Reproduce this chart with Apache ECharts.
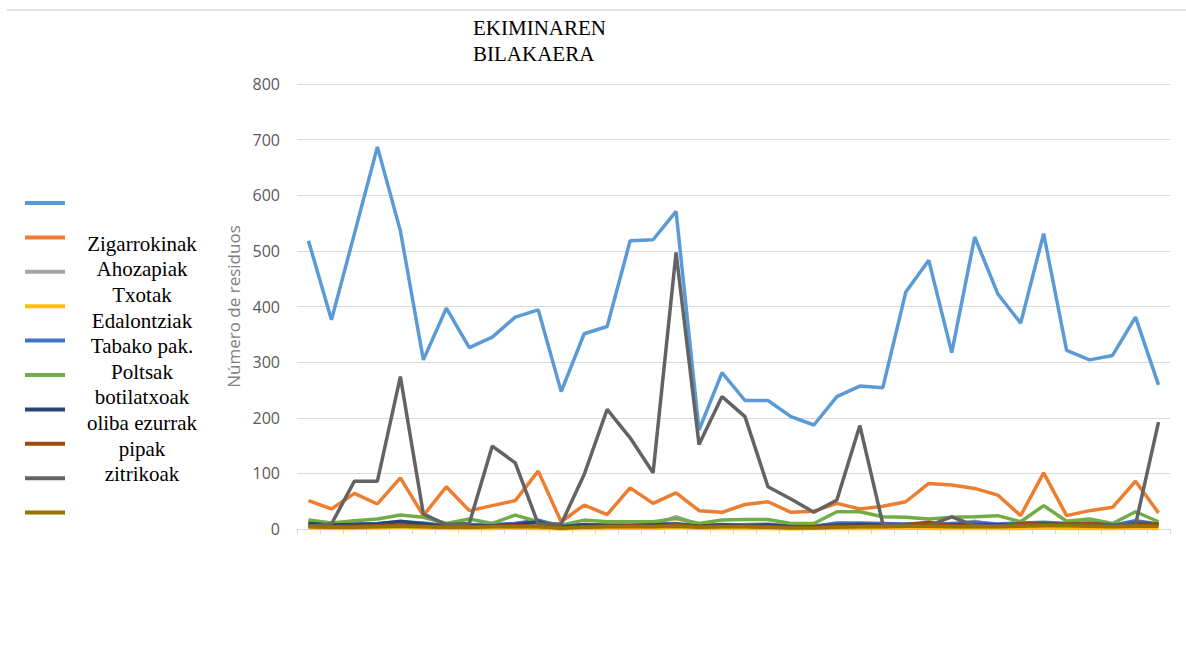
<!DOCTYPE html>
<html>
<head>
<meta charset="utf-8">
<title>Ekiminaren bilakaera</title>
<script src="https://cdn.jsdelivr.net/npm/echarts@6/dist/echarts.min.js"></script>
<style>
  html, body { margin: 0; padding: 0; background: #fff; }
  #chart { width: 1186px; height: 647px; }
</style>
</head>
<body>
<div id="chart"></div>
<script>
  // 38 egun / neurketa
  const days = Array.from({length: 38}, (_, i) => String(i + 1))

  const seriesNames = ['Zigarrokinak', 'Ahozapiak', 'Txotak', 'Edalontziak', 'Tabako pak.',
    'Poltsak', 'botilatxoak', 'oliba ezurrak', 'pipak', 'zitrikoak']
  const colors = ['#5B9BD5', '#ED7D31', '#A5A5A5', '#FFC000', '#4472C4',
    '#70AD47', '#264478', '#9E480E', '#636363', '#997300']

  const s1 = [518, 376, 531, 687, 536, 304, 397, 326, 345, 381, 394, 247, 351, 364, 518, 520, 571, 178, 281,
    231, 231, 202, 187, 238, 257, 254, 426, 483, 317, 525, 423, 370, 531, 321, 304, 312, 381, 259]
  const s2 = [51, 36, 64, 45, 92, 24, 76, 33, 42, 51, 104, 13, 43, 26, 74, 46, 65, 33, 30,
    44, 49, 30, 32, 46, 36, 41, 49, 82, 79, 73, 61, 24, 101, 24, 33, 39, 86, 29]
  const s3 = [8, 5, 6, 7, 10, 8, 5, 6, 8, 10, 9, 4, 8, 7, 9, 8, 22, 8, 6,
    8, 9, 5, 5, 8, 7, 6, 8, 7, 8, 14, 7, 8, 9, 8, 7, 6, 9, 7]
  const s4 = [2, 1, 1, 2, 4, 2, 1, 1, 1, 2, 1, 0, 1, 1, 2, 1, 3, 1, 1,
    1, 1, 0, 1, 1, 1, 1, 2, 1, 1, 1, 1, 1, 2, 1, 1, 1, 2, 1]
  const s5 = [12, 8, 9, 10, 13, 11, 6, 8, 7, 10, 16, 5, 8, 7, 7, 9, 10, 6, 8,
    7, 8, 5, 5, 11, 11, 10, 9, 8, 10, 12, 9, 11, 12, 10, 8, 7, 15, 9]
  const s6 = [16, 11, 15, 18, 25, 21, 10, 18, 10, 25, 13, 7, 16, 13, 13, 13, 19, 10, 16,
    17, 17, 10, 10, 31, 31, 22, 21, 18, 21, 22, 24, 13, 42, 14, 18, 10, 31, 13]
  const s7 = [10, 7, 8, 9, 14, 9, 5, 6, 6, 8, 13, 4, 7, 6, 6, 7, 8, 5, 7,
    6, 7, 4, 4, 7, 8, 7, 6, 6, 7, 8, 7, 8, 9, 8, 6, 5, 10, 8]
  const s8 = [5, 4, 5, 6, 7, 5, 4, 4, 5, 6, 5, 2, 4, 5, 6, 5, 8, 4, 5,
    5, 4, 3, 3, 5, 5, 6, 8, 12, 6, 7, 5, 10, 8, 9, 11, 7, 8, 9]
  const s9 = [5, 9, 86, 86, 274, 27, 8, 10, 149, 119, 9, 9, 98, 215, 164, 101, 497, 152, 238,
    202, 76, 54, 30, 52, 186, 9, 6, 6, 22, 6, 6, 7, 7, 7, 7, 6, 8, 192]
  const s10 = [4, 3, 3, 4, 5, 4, 3, 3, 4, 4, 4, 2, 3, 4, 4, 4, 5, 3, 4,
    4, 3, 2, 2, 3, 4, 4, 5, 5, 4, 4, 4, 5, 6, 6, 5, 4, 5, 5]

  const yTicks = [0, 100, 200, 300, 400, 500, 600, 700, 800]

  const allData = [s1, s2, s3, s4, s5, s6, s7, s8, s9, s10]

  const chart = echarts.init(document.getElementById('chart'), null, {renderer: 'svg'})

  chart.setOption({
    backgroundColor: '#fff',
    animation: false,
    color: colors,
    title: {
      text: 'EKIMINAREN\nBILAKAERA',
      left: 473,
      top: 15,
      padding: 0,
      textStyle: {
        fontFamily: 'Liberation Serif',
        fontSize: 21,
        fontWeight: 'normal',
        color: '#000',
        lineHeight: 26
      }
    },
    legend: {
      orient: 'vertical',
      left: 25,
      top: 201,
      padding: 0,
      icon: 'rect',
      itemWidth: 40,
      itemHeight: 4,
      itemGap: 30.4,
      selectedMode: false,
      formatter: () => '',
      textStyle: {fontSize: 12, lineHeight: 12, padding: 0},
      data: seriesNames
    },
    graphic: [
      {
        type: 'line',
        shape: {x1: 7, y1: 10, x2: 1186, y2: 10},
        style: {stroke: '#e2e2e2', lineWidth: 2}
      },
      {
        type: 'text',
        x: 142,
        y: 231,
        style: {
          text: seriesNames.join('\n'),
          fontFamily: 'Liberation Serif',
          fontSize: 21,
          lineHeight: 25.6,
          fill: '#000',
          align: 'center',
          verticalAlign: 'top'
        }
      }
    ],
    grid: {
      left: 297,
      right: 16,
      top: 84,
      bottom: 118
    },
    xAxis: {
      type: 'category',
      data: days,
      boundaryGap: true,
      axisLine: {lineStyle: {color: '#d9d9d9', width: 1}},
      axisTick: {show: true, length: 5, lineStyle: {color: '#d9d9d9'}},
      axisLabel: {show: false},
      splitLine: {show: false}
    },
    yAxis: {
      type: 'value',
      min: yTicks[0],
      max: yTicks[yTicks.length - 1],
      interval: 100,
      name: 'Número de residuos',
      nameLocation: 'middle',
      nameRotate: 90,
      nameGap: 54,
      nameTextStyle: {fontFamily: 'Open Sans', fontSize: 17, color: '#808080'},
      axisLine: {show: false},
      axisTick: {show: false},
      axisLabel: {margin: 17, fontFamily: 'Open Sans', fontSize: 16, color: '#595959'},
      splitLine: {lineStyle: {color: '#d9d9d9', width: 1}}
    },
    series: seriesNames.map((name, i) => ({
      name: name,
      type: 'line',
      data: allData[i],
      showSymbol: false,
      symbol: 'none',
      lineStyle: {width: 3.5, color: colors[i]},
      itemStyle: {color: colors[i]}
    }))
  })
</script>
</body>
</html>
